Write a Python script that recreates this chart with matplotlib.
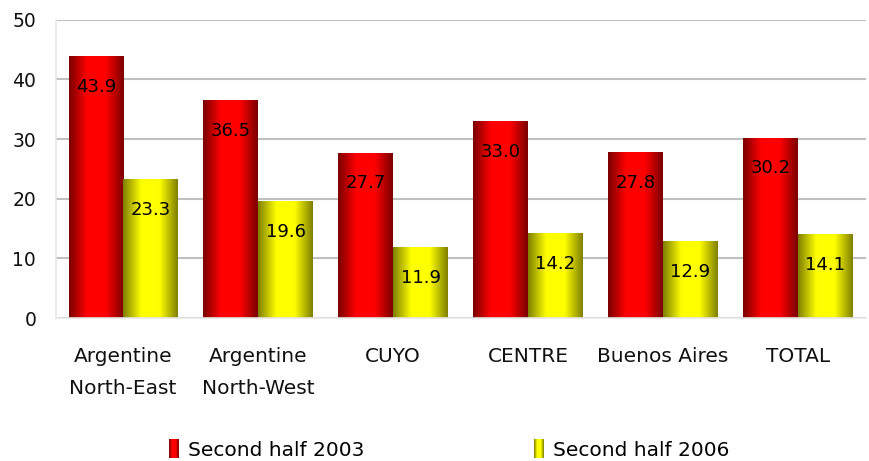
import numpy as np
import matplotlib
matplotlib.use("Agg")
import matplotlib.pyplot as plt
from matplotlib.colors import LinearSegmentedColormap
from matplotlib.patches import Patch
from matplotlib.legend_handler import HandlerPatch

# data
regions = ["Argentine\nNorth-East", "Argentine\nNorth-West", "CUYO", "CENTRE", "Buenos Aires", "TOTAL"]
half_2003 = [43.9, 36.5, 27.7, 33.0, 27.8, 30.2]
half_2006 = [23.3, 19.6, 11.9, 14.2, 12.9, 14.1]
series_names = ["Second half 2003", "Second half 2006"]

plt.rcParams['font.family'] = ['DejaVu Sans']

red_cmap = LinearSegmentedColormap.from_list("red", ["#7a0000", "#ff0000", "#ff0000", "#7a0000"])
yel_cmap = LinearSegmentedColormap.from_list("yel", ["#7f7f00", "#ffff00", "#ffff00", "#7f7f00"])
grad = np.linspace(0, 1, 256).reshape(1, -1)


def gradient_bars(ax, bars, cmap):
    # paint each bar with a horizontal gradient clipped to its rectangle
    for b in bars:
        x, y = b.get_x(), b.get_y()
        w, h = b.get_width(), b.get_height()
        im = ax.imshow(grad, cmap=cmap, aspect='auto', extent=(x, x + w, y, y + h),
                       zorder=2, interpolation='bicubic')
        im.set_clip_path(b)
        b.set_facecolor('none')


class GradientHandler(HandlerPatch):
    def __init__(self, cmap):
        super().__init__()
        self.cmap = cmap

    def create_artists(self, legend, orig_handle, xdescent, ydescent, width, height, fontsize, trans):
        from matplotlib.image import BboxImage
        from matplotlib.transforms import Bbox, TransformedBbox
        bb = Bbox.from_bounds(-xdescent, -ydescent, width, height)
        img = BboxImage(TransformedBbox(bb, trans), cmap=self.cmap, interpolation='bicubic')
        img.set_data(grad)
        return [img]


fig = plt.figure(figsize=(8.7, 4.61), dpi=100)
ax = fig.add_axes([0.064, 0.31, 0.931, 0.647])

x = np.arange(len(regions))
w = 0.405
b1 = ax.bar(x - w / 2, half_2003, width=w, zorder=2)
b2 = ax.bar(x + w / 2, half_2006, width=w, zorder=2)
gradient_bars(ax, b1, red_cmap)
gradient_bars(ax, b2, yel_cmap)

for bars, vals in ((b1, half_2003), (b2, half_2006)):
    for b, v in zip(bars, vals):
        ax.annotate(f"{v:.1f}", (b.get_x() + b.get_width() / 2, v), xytext=(0, -22),
                    textcoords='offset points', ha='center', va='center',
                    fontsize=13, color='black', zorder=4)

ax.set_xlim(-0.5, len(regions) - 0.5)
ax.set_ylim(0, 50)
ax.set_yticks(range(0, 51, 10))
ax.yaxis.grid(True, color='#c0c0c0', linewidth=1.5, zorder=0)
ax.set_axisbelow(True)
for side in ('top', 'right'):
    ax.spines[side].set_visible(False)
for side in ('left', 'bottom'):
    ax.spines[side].set_color('#e6e6e6')
    ax.spines[side].set_linewidth(1.2)

ax.set_xticks(x)
ax.set_xticklabels(regions, fontsize=14.5, linespacing=1.85, color='#111111')
ax.tick_params(axis='x', length=0, pad=21)
ax.tick_params(axis='y', length=0, pad=14, labelsize=13.5, labelcolor='#111111')

handles = [Patch(label=series_names[0]), Patch(label=series_names[1])]
fig.legend(handles=handles, loc='center', bbox_to_anchor=(0.516, 0.024), ncol=2, frameon=False,
           fontsize=14.5, handlelength=0.45, handleheight=1.0, handletextpad=0.5, columnspacing=8.4,
           handler_map={handles[0]: GradientHandler(red_cmap), handles[1]: GradientHandler(yel_cmap)})

fig.savefig("out.png", dpi=100)
